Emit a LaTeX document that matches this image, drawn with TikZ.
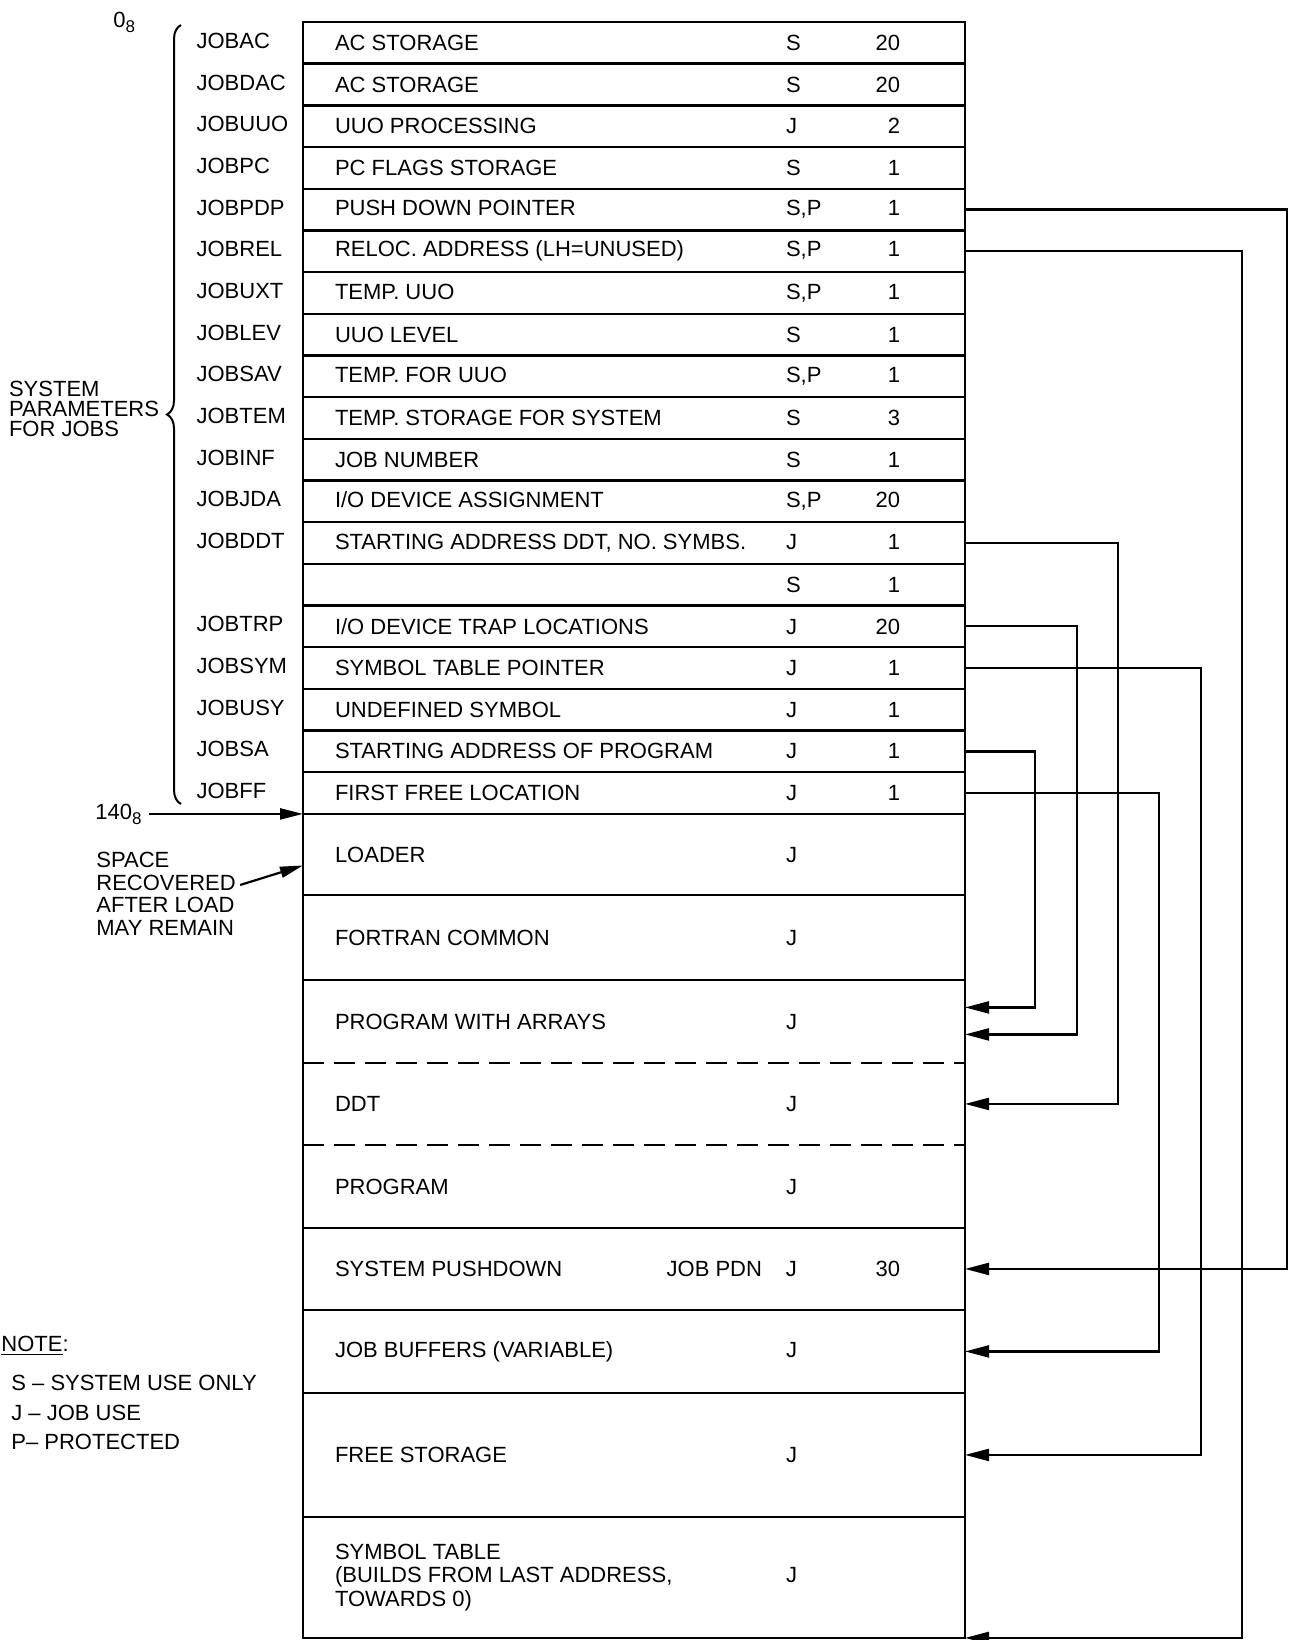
\documentclass[tikz,border=0pt]{standalone}
\usepackage{fontspec}
\setmainfont{Liberation Sans}
\usetikzlibrary{positioning,arrows.meta,decorations.pathreplacing}

\newcommand{\memcells}[3]{\makebox[16pt]{}\makebox[225.5pt][l]{#1}\makebox[57pt][l]{#2\hfill#3}\makebox[32.5pt]{}}

\begin{document}
\begin{tikzpicture}[
    x=0.5pt, y=-0.5pt,
    node distance=0pt,
    font=\fontsize{11pt}{13pt}\selectfont,
    part/.style={minimum width=331pt, minimum height=20.84pt, inner sep=0pt, outer sep=0pt},
    slot/.style={part, draw, line width=1.2pt},
    jobname/.style={text width=53pt, inner sep=0pt, align=left, yshift=1pt},
    link/.style={line width=1.1pt, -{Triangle[length=12pt,width=6pt]}},
    pointer/.style={line width=1.1pt, -{Triangle[length=11.5pt,width=5.5pt]}}
  ]
  \useasboundingbox (0,0) rectangle (1293,1640);

  % job data area
  \node[slot, anchor=north west, label={[jobname]left:JOBAC}] (jobac) at (303,22) {\memcells{AC STORAGE}{S}{20}};
  \node[slot, below=of jobac, label={[jobname]left:JOBDAC}] (jobdac) {\memcells{AC STORAGE}{S}{20}};
  \node[slot, below=of jobdac, label={[jobname]left:JOBUUO}] (jobuuo) {\memcells{UUO PROCESSING}{J}{2}};
  \node[slot, below=of jobuuo, label={[jobname]left:JOBPC}] (jobpc) {\memcells{PC FLAGS STORAGE}{S}{1}};
  \node[slot, below=of jobpc, label={[jobname]left:JOBPDP}] (jobpdp) {\memcells{PUSH DOWN POINTER}{S,P}{1}};
  \node[slot, below=of jobpdp, label={[jobname]left:JOBREL}] (jobrel) {\memcells{RELOC. ADDRESS (LH=UNUSED)}{S,P}{1}};
  \node[slot, below=of jobrel, label={[jobname]left:JOBUXT}] (jobuxt) {\memcells{TEMP. UUO}{S,P}{1}};
  \node[slot, below=of jobuxt, label={[jobname]left:JOBLEV}] (joblev) {\memcells{UUO LEVEL}{S}{1}};
  \node[slot, below=of joblev, label={[jobname]left:JOBSAV}] (jobsav) {\memcells{TEMP. FOR UUO}{S,P}{1}};
  \node[slot, below=of jobsav, label={[jobname]left:JOBTEM}] (jobtem) {\memcells{TEMP. STORAGE FOR SYSTEM}{S}{3}};
  \node[slot, below=of jobtem, label={[jobname]left:JOBINF}] (jobinf) {\memcells{JOB NUMBER}{S}{1}};
  \node[slot, below=of jobinf, label={[jobname]left:JOBJDA}] (jobjda) {\memcells{I/O DEVICE ASSIGNMENT}{S,P}{20}};
  \node[slot, below=of jobjda, label={[jobname]left:JOBDDT}] (jobddt) {\memcells{STARTING ADDRESS DDT, NO. SYMBS.}{J}{1}};
  \node[slot, below=of jobddt] (blank) {\memcells{}{S}{1}};
  \node[slot, below=of blank, label={[jobname]left:JOBTRP}] (jobtrp) {\memcells{I/O DEVICE TRAP LOCATIONS}{J}{20}};
  \node[slot, below=of jobtrp, label={[jobname]left:JOBSYM}] (jobsym) {\memcells{SYMBOL TABLE POINTER}{J}{1}};
  \node[slot, below=of jobsym, label={[jobname]left:JOBUSY}] (jobusy) {\memcells{UNDEFINED SYMBOL}{J}{1}};
  \node[slot, below=of jobusy, label={[jobname]left:JOBSA}] (jobsa) {\memcells{STARTING ADDRESS OF PROGRAM}{J}{1}};
  \node[slot, below=of jobsa, label={[jobname]left:JOBFF}] (jobff) {\memcells{FIRST FREE LOCATION}{J}{1}};

  % rest of the job area
  \node[slot, minimum height=40.5pt, below=of jobff] (loader) {\memcells{LOADER}{J}{}};
  \node[slot, minimum height=42.5pt, below=of loader] (fortran) {\memcells{FORTRAN COMMON}{J}{}};
  \node[part, minimum height=41.5pt, below=of fortran] (pwa) {\memcells{PROGRAM WITH ARRAYS}{J}{}};
  \node[part, minimum height=41pt, below=of pwa] (ddt) {\memcells{DDT}{J}{}};
  \node[part, minimum height=41.5pt, below=of ddt] (program) {\memcells{PROGRAM}{J}{}};
  \node[slot, minimum height=41pt, below=of program] (push) {\memcells{SYSTEM PUSHDOWN\hfill JOB PDN\hspace{12pt}}{J}{30}};
  \node[slot, minimum height=41.5pt, below=of push] (buffers) {\memcells{JOB BUFFERS (VARIABLE)}{J}{}};
  \node[slot, minimum height=62pt, below=of buffers] (free) {\memcells{FREE STORAGE}{J}{}};
  \node[slot, minimum height=60.5pt, below=of free] (symtab) {\memcells{\parbox{225.5pt}{\baselineskip=11.75pt SYMBOL TABLE\\(BUILDS FROM LAST ADDRESS,\\TOWARDS 0)}}{J}{}};

  \draw[line width=1.2pt] (pwa.north west) -- (program.south west) (pwa.north east) -- (program.south east);
  \draw[line width=1.2pt, dash pattern=on 10.5pt off 5pt] (ddt.north west) -- (ddt.north east);
  \draw[line width=1.2pt, dash pattern=on 10.5pt off 5pt] (ddt.south west) -- (ddt.south east);

  % pointers into the job area
  \draw[link] (jobpdp.east) -- ++(322,0) |- (push.east);
  \draw[link] (jobrel.east) -- ++(277,0) |- (symtab.south east);
  \draw[link] (jobddt.east) -- ++(153,0) |- (ddt.east);
  \draw[link] (jobtrp.east) -- ++(112,0) |- ([yshift=-6.5pt]pwa.east);
  \draw[link] (jobsa.east) -- ++(70,0) |- ([yshift=7pt]pwa.east);
  \draw[link] (jobff.east) -- ++(194,0) |- (buffers.east);
  \draw[link] (jobsym.east) -- ++(236,0) |- (free.east);

  % left side notes
  \node[anchor=base west, inner sep=0pt] (origin) at (113,27) {0\raisebox{-2.5pt}{\fontsize{8.5pt}{8.5pt}\selectfont 8}};
  \node[anchor=base west, inner sep=0pt] (top140) at (95,819) {140\raisebox{-2.5pt}{\fontsize{8.5pt}{8.5pt}\selectfont 8}};
  \coordinate (tail140) at ([xshift=3.5pt]top140.east);
  \draw[pointer] (tail140 |- loader.north west) -- (loader.north west);

  \node[anchor=north west, inner sep=0pt, align=left, font=\fontsize{11pt}{11.3pt}\selectfont] (space) at (96,852) {SPACE\\RECOVERED\\AFTER LOAD\\MAY REMAIN};
  \draw[pointer] ([xshift=2pt,yshift=4.5pt]space.east) -- ([yshift=-5.5pt]loader.west);

  \draw[line width=1pt, decorate, decoration={brace, amplitude=7pt}] (181,804) -- (181,25)
    node[midway, left=10.5pt, yshift=3pt, inner sep=0pt, align=left, font=\fontsize{11pt}{10pt}\selectfont] (sysparm) {SYSTEM\\PARAMETERS\\FOR JOBS};

  \node[anchor=base west, inner sep=0pt] (note) at (1,1351) {\underline{NOTE}:};
  \node[anchor=north west, inner sep=0pt, align=left, font=\fontsize{11pt}{14.75pt}\selectfont] (legend) at (11,1375) {S – SYSTEM USE ONLY\\J – JOB USE\\P– PROTECTED};
\end{tikzpicture}
\end{document}
